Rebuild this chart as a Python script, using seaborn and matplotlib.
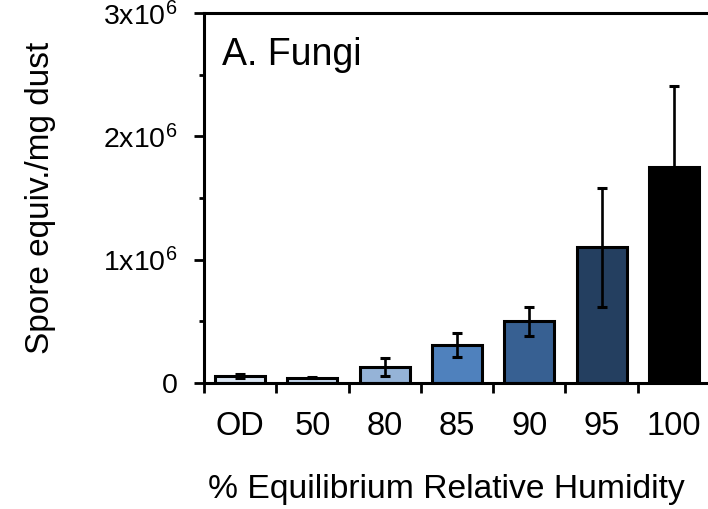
import numpy as np
import pandas as pd
import matplotlib
matplotlib.use("Agg")
import matplotlib.pyplot as plt
from matplotlib.ticker import MultipleLocator, FixedLocator
import seaborn as sns

categories = ["OD", "50", "80", "85", "90", "95", "100"]
means = [55000, 42000, 130000, 310000, 500000, 1100000, 1750000]
errors = [15000, 4000, 70000, 95000, 120000, 480000, 660000]
colors = ["#dbe6f3", "#c6d8ee", "#95b3d7", "#4f81bd", "#376092", "#243f60", "#000000"]
ytick_vals = [0, 1e6, 2e6, 3e6]
ytick_labels = ["0", r"$\mathregular{1x10^{6}}$", r"$\mathregular{2x10^{6}}$", r"$\mathregular{3x10^{6}}$"]

sns.set_theme(style="white")
plt.rcParams["font.family"] = ["Liberation Sans", "DejaVu Sans"]
plt.rcParams["mathtext.fontset"] = "custom"
plt.rcParams["mathtext.rm"] = "Liberation Sans"

df = pd.DataFrame({"rh": categories, "mean": means, "err": errors})

fig = plt.figure(figsize=(7.08, 5.09), dpi=100)
ax = fig.add_axes([0.288, 0.2475, 0.715, 0.7265])

sns.barplot(data=df, x="rh", y="mean", hue="rh", palette=colors, legend=False,
            width=0.69, edgecolor="black", linewidth=2.2, errorbar=None, ax=ax,
            order=categories, hue_order=categories, saturation=1)

xs = [p.get_x() + p.get_width() / 2 for p in ax.patches]
ax.errorbar(xs, df["mean"], yerr=df["err"], fmt="none", ecolor="black",
            elinewidth=1.9, capsize=3.6, capthick=2.2, zorder=5)

ax.set_xlim(-0.5, len(categories) - 0.5)
ax.set_ylim(0, 3e6)
ax.set_yticks(ytick_vals)
ax.set_yticklabels(ytick_labels)
ax.yaxis.set_minor_locator(MultipleLocator(5e5))
ax.set_xticks(range(len(categories)))
ax.set_xticklabels(categories)
ax.xaxis.set_minor_locator(FixedLocator(np.arange(-0.5, len(categories), 1.0)))

ax.tick_params(axis="x", which="major", length=0, pad=20, labelsize=23.5, colors="black")
ax.tick_params(axis="x", which="minor", length=7, width=2.0, direction="out", bottom=True, color="black")
ax.tick_params(axis="y", which="major", length=7, width=2.0, direction="out", left=True,
               pad=12, labelsize=20.5, color="black", labelcolor="black")
ax.tick_params(axis="y", which="minor", length=3.5, width=2.0, direction="out", left=True, color="black")

for side in ["left", "bottom", "top"]:
    ax.spines[side].set_visible(True)
    ax.spines[side].set_linewidth(2.2)
    ax.spines[side].set_color("black")
ax.spines["right"].set_visible(False)

ax.set_xlabel("% Equilibrium Relative Humidity", fontsize=24.2, color="black")
ax.xaxis.set_label_coords(0.479, -0.245)
ax.set_ylabel("Spore equiv./mg dust", fontsize=24, labelpad=34, color="black")
ax.text(0.035, 0.935, "A. Fungi", transform=ax.transAxes, fontsize=27,
        ha="left", va="top", color="black")

fig.savefig("out.png", dpi=100)
